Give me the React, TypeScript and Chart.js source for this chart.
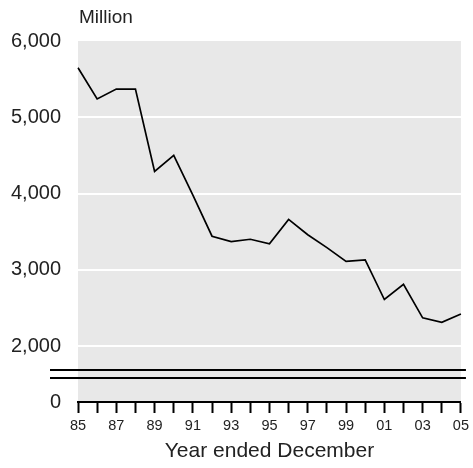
import { useEffect, useRef } from 'react';
import { Chart, registerables } from 'chart.js';

Chart.register(...registerables);

// Year ended December (1985 - 2005)
const years = ['85', '86', '87', '88', '89', '90', '91', '92', '93', '94', '95', '96', '97', '98', '99', '00', '01', '02', '03', '04', '05'];
// Million
const values = [5650, 5240, 5370, 5370, 4290, 4500, 3980, 3440, 3370, 3400, 3340, 3660, 3460, 3290, 3110, 3130, 2610, 2810, 2370, 2310, 2420];
const yTickValues = [2000, 3000, 4000, 5000, 6000];
// The axis is broken: its bottom stands for 0
const yAxisFloor = 1266;
const yAxisTop = 6000;
const breakMarks = [1682, 1577];

const FONT = '"Liberation Sans", Arial, sans-serif';
const TEXT = '#222222';

export default function App() {
  const ref = useRef<HTMLCanvasElement | null>(null);

  useEffect(() => {
    document.body.style.margin = '0';
    const canvas = ref.current;
    if (!canvas) return;

    const decor = {
      id: 'decor',
      beforeDraw(chart: any) {
        const { ctx, chartArea } = chart;
        ctx.save();
        ctx.fillStyle = '#e8e8e8';
        ctx.fillRect(chartArea.left, chartArea.top, chartArea.right - chartArea.left, chartArea.bottom - chartArea.top);
        ctx.restore();
      },
      afterDraw(chart: any) {
        const { ctx, chartArea } = chart;
        const y = chart.scales.y;
        ctx.save();
        ctx.strokeStyle = '#000';
        ctx.lineWidth = 2;
        breakMarks.forEach((v) => {
          const py = Math.round(y.getPixelForValue(v));
          ctx.beginPath();
          ctx.moveTo(chartArea.left - 28, py);
          ctx.lineTo(chartArea.right + 5, py);
          ctx.stroke();
        });
        ctx.fillStyle = TEXT;
        ctx.font = `19px ${FONT}`;
        ctx.textBaseline = 'middle';
        ctx.textAlign = 'left';
        ctx.fillText('Million', chartArea.left + 1, 18);
        ctx.restore();
      },
    };

    const chart = new Chart(canvas, {
      type: 'line',
      data: {
        labels: years,
        datasets: [
          {
            data: values,
            borderColor: '#000',
            borderWidth: 1.7,
            pointRadius: 0,
            tension: 0,
            fill: false,
          },
        ],
      },
      options: {
        animation: false,
        responsive: true,
        maintainAspectRatio: false,
        layout: { padding: { left: 0, right: 11, top: 41, bottom: 0 } },
        plugins: {
          legend: { display: false },
          tooltip: { enabled: false },
        },
        scales: {
          x: {
            type: 'category',
            offset: false,
            afterFit(scale: any) {
              scale.height = 66;
            },
            grid: {
              offset: false,
              drawOnChartArea: false,
              drawTicks: true,
              tickLength: 11,
              tickColor: '#000',
              tickWidth: 2,
            },
            border: { display: true, color: '#000', width: 2 },
            ticks: {
              autoSkip: false,
              maxRotation: 0,
              padding: 4,
              color: TEXT,
              font: { family: FONT, size: 14.5 },
              callback: (_v: any, i: number) => (i % 2 === 0 ? years[i] : ''),
            },
            title: {
              display: true,
              text: 'Year ended December',
              color: TEXT,
              font: { family: FONT, size: 21 },
              padding: { top: 0, bottom: 4 },
            },
          },
          y: {
            min: yAxisFloor,
            max: yAxisTop,
            afterFit(scale: any) {
              scale.width = 78;
            },
            afterBuildTicks(scale: any) {
              scale.ticks = [yAxisFloor, ...yTickValues].map((v) => ({ value: v }));
            },
            border: { display: false },
            grid: {
              drawTicks: false,
              lineWidth: 2,
              color: (c: any) => {
                const v = c.tick && c.tick.value;
                return v >= 2000 && v < 6000 ? '#ffffff' : 'rgba(0,0,0,0)';
              },
            },
            ticks: {
              padding: 17,
              color: TEXT,
              font: { family: FONT, size: 20 },
              callback: (v: any) => (v === yAxisFloor ? '0' : Number(v).toLocaleString('en-US')),
            },
          },
        },
      },
      plugins: [decor],
    });

    return () => chart.destroy();
  }, []);

  return (
    <div style={{ width: 473, height: 468, position: 'relative' }}>
      <canvas ref={ref} />
    </div>
  );
}
